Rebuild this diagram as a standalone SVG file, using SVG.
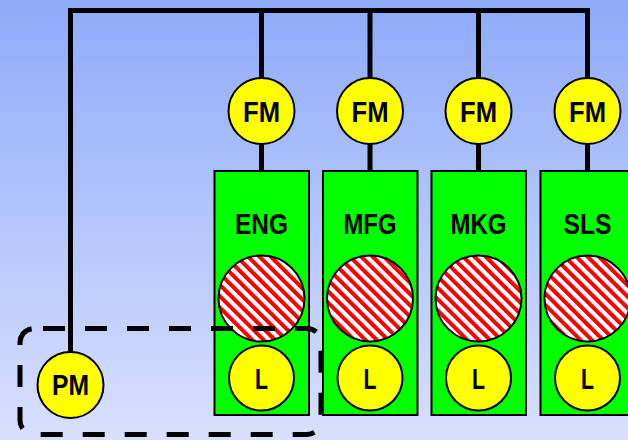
<svg xmlns="http://www.w3.org/2000/svg" width="628" height="440" viewBox="0 0 628 440">
<defs>
<linearGradient id="bg" x1="0" y1="0" x2="0" y2="1">
<stop offset="0" stop-color="#8eaaf9"/>
<stop offset="1" stop-color="#d8e0fd"/>
</linearGradient>
<pattern id="hatch" width="8" height="8" patternUnits="userSpaceOnUse" patternTransform="rotate(-45)">
<rect width="8" height="8" fill="#ffffff"/>
<rect width="4" height="8" fill="#ff0000"/>
</pattern>
<style>
.line{stroke:#000;stroke-width:5;fill:none}
.box{fill:#00ff00;stroke:#000;stroke-width:2}
.yc{fill:#ffff00;stroke:#000;stroke-width:2}
.hc{fill:url(#hatch);stroke:#000;stroke-width:2}
.t{font-family:"Liberation Sans Narrow","Liberation Sans",Arial,sans-serif;font-size:30px;font-weight:bold;fill:#000;text-anchor:middle}
.dash{fill:none;stroke:#000;stroke-width:5;stroke-dasharray:22 20;stroke-dashoffset:33}
</style>
</defs>
<rect width="628" height="440" fill="url(#bg)"/>
<g id="connectors">
<path class="line" d="M70.5 353 V10.5 H587.5 V78"/>
<path class="line" d="M261.5 10.5 V78 M370 10.5 V78 M478.5 10.5 V78"/>
<path class="line" d="M261.5 144 V171 M370 144 V171 M478.5 144 V171 M587.5 144 V171"/>
</g>
<g id="fm1"><circle class="yc" cx="261.5" cy="111" r="33"/><text class="t" x="261.5" y="122" textLength="37" lengthAdjust="spacingAndGlyphs">FM</text></g>
<g id="fm2"><circle class="yc" cx="370" cy="111" r="33"/><text class="t" x="370" y="122" textLength="37" lengthAdjust="spacingAndGlyphs">FM</text></g>
<g id="fm3"><circle class="yc" cx="478.5" cy="111" r="33"/><text class="t" x="478.5" y="122" textLength="37" lengthAdjust="spacingAndGlyphs">FM</text></g>
<g id="fm4"><circle class="yc" cx="587.5" cy="111" r="33"/><text class="t" x="587.5" y="122" textLength="37" lengthAdjust="spacingAndGlyphs">FM</text></g>
<g id="eng">
<rect class="box" x="214.5" y="171" width="94.5" height="244"/>
<text class="t" x="261.5" y="233.5" textLength="53" lengthAdjust="spacingAndGlyphs">ENG</text>
<circle class="hc" cx="261.5" cy="298.5" r="43"/>
<circle class="yc" cx="261.5" cy="378" r="32.5"/>
<text class="t" x="261.5" y="388.5" textLength="13" lengthAdjust="spacingAndGlyphs">L</text>
</g>
<g id="mfg">
<rect class="box" x="323" y="171" width="94.5" height="244"/>
<text class="t" x="370" y="233.5" textLength="53" lengthAdjust="spacingAndGlyphs">MFG</text>
<circle class="hc" cx="370" cy="298.5" r="43"/>
<circle class="yc" cx="370" cy="378" r="32.5"/>
<text class="t" x="370" y="388.5" textLength="13" lengthAdjust="spacingAndGlyphs">L</text>
</g>
<g id="mkg">
<rect class="box" x="431.5" y="171" width="94.5" height="244"/>
<text class="t" x="478.5" y="233.5" textLength="56" lengthAdjust="spacingAndGlyphs">MKG</text>
<circle class="hc" cx="478.5" cy="298.5" r="43"/>
<circle class="yc" cx="478.5" cy="378" r="32.5"/>
<text class="t" x="478.5" y="388.5" textLength="13" lengthAdjust="spacingAndGlyphs">L</text>
</g>
<g id="sls">
<rect class="box" x="540.5" y="171" width="94.5" height="244"/>
<text class="t" x="587.5" y="233.5" textLength="48" lengthAdjust="spacingAndGlyphs">SLS</text>
<circle class="hc" cx="587.5" cy="298.5" r="43"/>
<circle class="yc" cx="587.5" cy="378" r="32.5"/>
<text class="t" x="587.5" y="388.5" textLength="13" lengthAdjust="spacingAndGlyphs">L</text>
</g>
<g id="pm"><circle class="yc" cx="70.5" cy="385" r="33"/><text class="t" x="70.5" y="395" textLength="37" lengthAdjust="spacingAndGlyphs">PM</text></g>
<g id="group"><rect class="dash" x="20" y="328.5" width="301" height="106" rx="14"/></g>
</svg>
